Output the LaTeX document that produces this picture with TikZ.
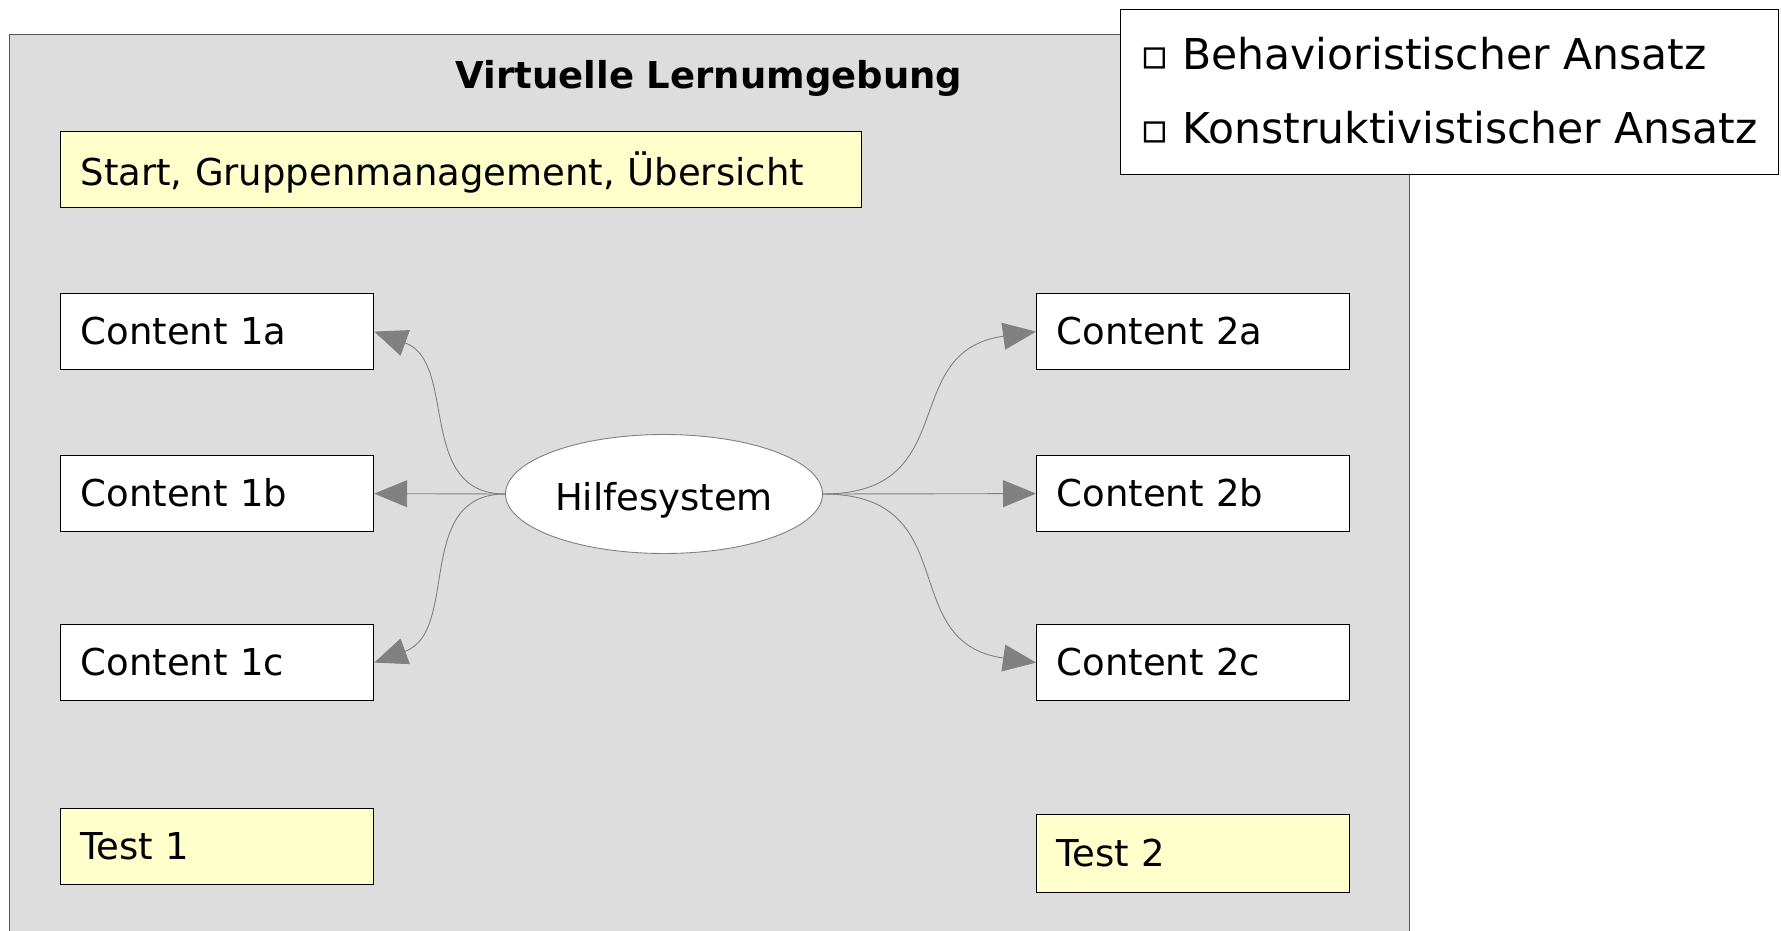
\documentclass[tikz,border=0pt]{standalone}
\usepackage{fontspec}
\setmainfont{DejaVu Sans}
\usetikzlibrary{arrows.meta,shapes.geometric}
\definecolor{panelgray}{HTML}{DDDDDD}
\definecolor{boxyellow}{HTML}{FFFFCC}
\definecolor{arrowgray}{HTML}{808080}
\definecolor{borderdark}{HTML}{555555}
\begin{document}
\begin{tikzpicture}[x=1pt,y=1pt,
  box/.style={draw=black, line width=1.2pt, rectangle, anchor=north west,
    minimum height=76pt, inner xsep=20pt, inner ysep=0pt, align=left,
    font=\fontsize{37pt}{40pt}\selectfont},
  contentbox/.style={box, fill=white, text width=273pt},
  yellowbox/.style={box, fill=boxyellow},
  conn/.style={draw=arrowgray, line width=0.9pt,
    -{Triangle[length=33pt,width=27pt,fill=arrowgray]}},
  legtext/.style={anchor=base west, inner sep=0pt, font=\fontsize{42.5pt}{50pt}\selectfont}
]
\useasboundingbox (0,0) rectangle (1781,-930);
% panel
\node[draw=borderdark, line width=1.2pt, fill=panelgray, rectangle, anchor=north west,
  minimum width=1400pt, minimum height=910pt, inner sep=0pt] (panel) at (9,-34) {};
\node[font=\fontsize{37pt}{40pt}\selectfont\bfseries, inner sep=0pt] (title) at (709,-78) {Virtuelle Lernumgebung};
% boxes
\node[yellowbox, text width=761pt, text depth=2pt] (start) at (60,-131) {Start, Gruppenmanagement, Übersicht};
\node[contentbox, text depth=2pt] (c1a) at (60,-293) {Content 1a};
\node[contentbox, text depth=2pt] (c1b) at (60,-455) {Content 1b};
\node[contentbox, text depth=2pt] (c1c) at (60,-624) {Content 1c};
\node[contentbox, text depth=2pt] (c2a) at (1036,-293) {Content 2a};
\node[contentbox, text depth=2pt] (c2b) at (1036,-455) {Content 2b};
\node[contentbox, text depth=2pt] (c2c) at (1036,-624) {Content 2c};
\node[yellowbox, text width=273pt, text depth=2pt] (t1) at (60,-808) {Test 1};
\node[yellowbox, text width=273pt, minimum height=78pt, text depth=2pt] (t2) at (1036,-814) {Test 2};
% help system
\node[ellipse, draw=arrowgray, line width=0.9pt, fill=white, minimum width=317pt,
  minimum height=119pt, inner sep=0pt, font=\fontsize{37pt}{40pt}\selectfont] (hs) at (664,-494) {};
\node[anchor=base, inner sep=0pt, font=\fontsize{37pt}{40pt}\selectfont] (hstext) at (664,-510) {Hilfesystem};
% connectors
\draw[conn] (hs.west) to[out=180,in=-20,looseness=1.1] (c1a.east);
\draw[conn] (hs.west) -- (c1b.east);
\draw[conn] (hs.west) to[out=180,in=20,looseness=1.1] (c1c.east);
\draw[conn] (hs.east) to[out=0,in=188,looseness=1.35] (c2a.west);
\draw[conn] (hs.east) -- (c2b.west);
\draw[conn] (hs.east) to[out=0,in=172,looseness=1.35] (c2c.west);
% legend
\node[draw=black, line width=1.2pt, fill=white, rectangle, anchor=north west,
  minimum width=658pt, minimum height=165pt, inner sep=0pt] (legend) at (1120,-9) {};
\node[legtext] (leg1) at (1140,-69) {▫ Behavioristischer Ansatz};
\node[legtext] (leg2) at (1140,-143) {▫ Konstruktivistischer Ansatz};
\end{tikzpicture}
\end{document}
